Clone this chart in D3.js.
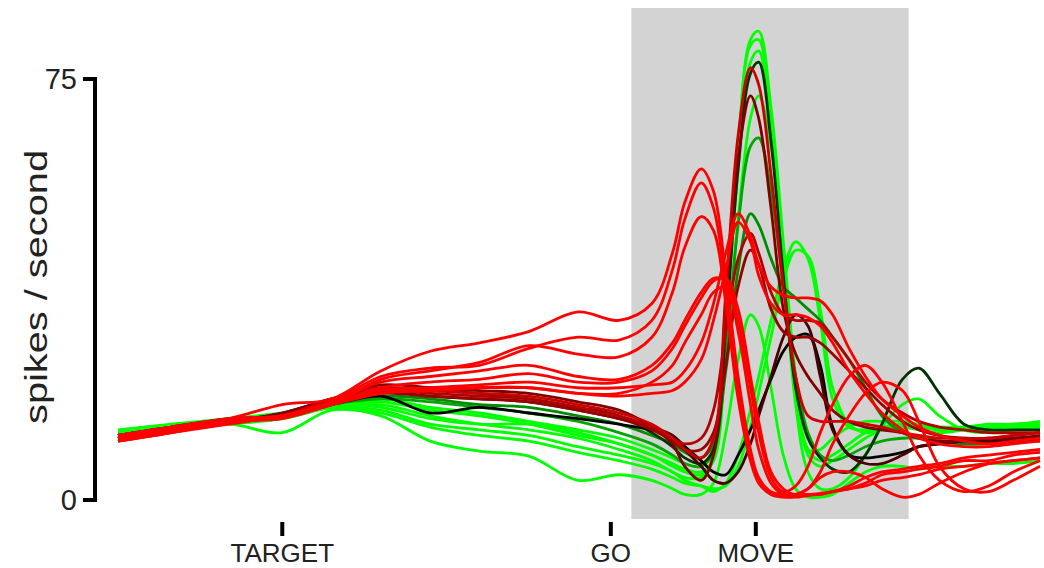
<!DOCTYPE html>
<html>
<head>
<meta charset="utf-8">
<script src="https://cdn.jsdelivr.net/npm/d3@7"></script>
<style>
  html, body { margin: 0; padding: 0; background: #fff; }
  svg { display: block; }
  text { font-family: "Liberation Sans", Arial, Helvetica, sans-serif; fill: #222; }
</style>
</head>
<body>
<svg id="chart" width="1044" height="568"></svg>
<script>
// Time (ms) of every sample, target onset at 0
const times = [-400, -270, -130, 0, 120, 240, 360, 480, 600, 720, 820, 900, 950, 980, 1020, 1050,
  1080, 1110, 1140, 1160, 1190, 1220, 1250, 1280, 1310, 1340, 1380, 1420, 1460, 1510, 1550, 1600,
  1660, 1720, 1780, 1845];

// Task events on the time axis
const eventTimes = [0, 800, 1153];
const eventLabels = ["TARGET", "GO", "MOVE"];

// Movement epoch highlighted in grey
const shadeWindow = [850, 1525];

// Rate axis ticks (spikes / second)
const rateTicks = [0, 75];

// Condition tint: -1 = green, 0 = black, +1 = red
const tints = [-1, -1, -1, -1, -0.65, -1, -1, -1, -0.55, -0.2, 0, 0.3, 0.8, 0.5, 0.7, 0.6,
  1, 1, 1, 1, 1, 1, 1, 1];

// Firing rate of each condition at each sample time
const rates = [
  [12, 13, 14.5, 15, 17, 18, 16.5, 15.5, 14, 12.5, 11, 9, 7.5, 6.5, 6, 9, 36, 63, 82, 83.5, 70, 46, 22, 8, 6, 7, 9, 11, 12.5, 13, 13, 12.5, 12.5, 12.5, 13, 13],
  [11.5, 13, 14, 15, 17, 17.5, 16, 15, 13.5, 11.5, 10, 8, 6, 5, 4.5, 7, 32, 59, 78, 80, 66, 42, 20, 9, 7, 8, 10, 12, 12.5, 13, 12.5, 12, 12.5, 13, 13, 13.5],
  [12, 13, 14, 14.5, 16.5, 17, 15, 13.5, 12.5, 11, 9, 7, 5, 4, 4, 8, 35, 63, 81, 82, 67, 42, 17, 5, 2, 2, 4, 8, 13, 17, 18, 15, 12.5, 12, 12.5, 13],
  [12.5, 13.5, 14.5, 15.5, 17, 16.5, 14.5, 13.5, 13.5, 12, 10, 8, 6.5, 5.5, 5, 7, 26, 50, 68, 72, 63, 42, 20, 9, 9, 11, 13, 14, 14, 14, 13.5, 13, 13, 13, 13.5, 13.5],
  [11.5, 13, 14, 15, 17, 18, 17.5, 16.5, 15.5, 14, 12, 10, 8, 6.5, 6, 8.5, 26, 49, 63, 64.5, 55, 38, 22, 12, 8, 7, 8, 9.5, 10.5, 11, 11, 10.5, 10, 10.5, 11, 11],
  [11, 12.5, 13.5, 14.5, 16.5, 16, 13.5, 12.5, 11.5, 9.5, 8, 6.5, 5, 3.5, 2.5, 1.5, 3, 8, 16, 22, 32, 41, 46, 43, 32, 18, 13, 12.5, 13, 13.5, 13.5, 13, 13, 13.5, 13.5, 14],
  [12, 13, 14, 15, 16.5, 15.5, 13, 11.5, 10.5, 8.5, 7, 5.5, 4, 3, 2.5, 2, 2.5, 6, 13, 19, 29, 39, 44.5, 43.5, 34, 20, 13.5, 12, 12.5, 13, 13, 12.5, 12.5, 13, 13.5, 13.5],
  [11, 12.5, 13.5, 12, 16, 15, 10.5, 8.7, 7.8, 3.5, 4.5, 3.5, 2, 1, 1, 3, 12, 25, 33, 31, 20, 8, 2, 0.5, 0.5, 1, 3, 5, 6, 6, 5.5, 6, 6, 6.5, 6.5, 7],
  [11, 12.5, 14, 15, 17, 18.5, 18, 17, 16.5, 15, 13.5, 11.5, 10, 8.5, 7.5, 10, 23, 41, 51, 49, 43, 38, 36, 34, 32, 29, 25, 20, 15, 12, 11, 10.5, 10, 10, 10.5, 10.5],
  [11.5, 13, 14.5, 15, 17.5, 19.5, 19.5, 19, 18, 16.5, 15, 12, 9.5, 7.5, 6.5, 9, 31, 59, 76, 78, 64, 40, 20, 11, 7.5, 5.5, 5, 8, 13.5, 21.5, 23.5, 19, 13.5, 12.5, 12.5, 12.5],
  [11.5, 12.5, 14, 15, 17, 18.5, 15.5, 16.5, 15.5, 14.5, 13.5, 12.5, 11.5, 9.5, 7, 5, 4.5, 8, 12.5, 16, 21.5, 26.5, 29, 29.5, 24, 13, 8, 7.5, 7.8, 8.5, 9.5, 10, 10.5, 10.5, 10.5, 11],
  [11, 12.5, 14, 15.5, 18, 19.5, 18.5, 18, 17.5, 16, 14.5, 13, 11.5, 9, 6, 3.5, 3, 5, 10, 15, 22, 29, 33, 31, 22, 12.5, 8, 6.5, 6.5, 8, 9.5, 10, 10.5, 10.5, 11, 11],
  [11, 12.5, 14, 15, 18, 20, 19.5, 19, 18.5, 17, 15.5, 13.5, 11, 9, 7.5, 11, 37, 65, 77, 74, 58, 38, 22, 15, 14, 14, 14, 13.5, 13, 12, 11.5, 11, 11, 11, 11.5, 12],
  [11.5, 13, 14, 15.5, 18, 20.5, 20, 19.5, 19, 17.5, 16, 13, 10, 6, 3.5, 8, 35, 61, 72, 68, 52, 34, 26, 22, 19, 16, 14, 13, 12.5, 12, 11, 10.5, 10.5, 11, 11, 11.5],
  [11, 12.5, 14, 15, 17.5, 19.5, 19, 18.5, 18, 16.5, 15, 13, 11, 10, 11, 16, 30, 43, 47.5, 44, 37, 33, 32, 32, 31.5, 29, 25, 21, 18, 15.5, 14, 13, 12.5, 12, 12, 12],
  [11.5, 13, 14, 15, 17.5, 19, 18.5, 18, 17.5, 16, 14.5, 12.5, 10.5, 9, 9, 12, 24, 38, 44.5, 42, 34, 30, 29, 29, 28, 26, 23, 20, 17, 14, 12.5, 11.5, 11, 11, 11.5, 12],
  [11.5, 13, 14.5, 15, 17, 19.5, 20, 20.5, 21, 20, 20, 20.5, 21, 23, 28, 35, 44, 51, 47, 42, 38, 36.5, 36, 36, 35.5, 33, 27, 22, 18, 15, 13, 11.5, 10.5, 10, 10.5, 11],
  [11, 12.5, 14, 15, 17, 19, 19.5, 20, 20, 19, 18.5, 19, 19.5, 21, 25, 32, 41, 49.5, 46, 40, 35, 33, 33, 32.5, 31, 28, 23, 19, 15.5, 12.5, 11, 10, 9.5, 9.5, 10, 10.5],
  [11.5, 13, 14.5, 17, 18, 23, 26.5, 28, 30, 33.5, 32, 35, 44, 53, 59, 55, 40, 22, 9, 4, 1.5, 1, 1, 1, 1.2, 1.5, 2, 3, 4.5, 5, 5.5, 6, 7, 7, 8, 8.5],
  [11, 12.5, 14, 15, 17.5, 22, 23.5, 24, 27, 29, 28.5, 32, 41, 50, 56.5, 52, 38, 20, 8, 3.5, 1.2, 0.8, 0.8, 1, 1, 1.5, 2.5, 4, 5, 5.5, 6, 6.5, 7.5, 8, 8.5, 9],
  [10.5, 12, 14, 15, 17, 21.5, 23, 24.5, 27.5, 26, 25.5, 29, 37, 45, 50.5, 48, 35, 18, 7, 3, 1, 0.5, 0.5, 0.8, 1, 1.5, 2, 2.5, 3.5, 4, 4.5, 5.5, 6, 6.5, 7, 7.5],
  [11, 12.5, 14, 15, 17.5, 21, 22, 23, 24, 22, 21.5, 24, 28, 32, 37, 39.5, 39, 32, 20, 12, 4, 1.5, 2.5, 6, 12, 17, 22, 24, 21, 14, 8, 3.5, 1.5, 2.5, 5, 7],
  [10.5, 12, 14, 14.5, 17, 20, 21, 21.5, 22.5, 21, 21, 23, 27, 31, 36, 39, 39.5, 34, 22, 14, 5, 2, 1, 2, 5, 10, 15, 19, 21, 19.5, 14, 6, 2, 1.5, 3.5, 6],
  [10.5, 12, 13.5, 15, 17, 19, 19.5, 20, 20, 19, 19, 21, 24, 28, 33, 37, 38, 30, 17, 9, 3, 1, 1, 2, 4, 5, 5, 4, 2, 0.5, 1, 3, 5, 6.5, 7, 7.5]
];

const svg = d3.select("#chart");

const x = d3.scaleLinear().domain([times[0], times[times.length - 1]]).range([118, 1040]);
const y = d3.scaleLinear().domain([0, 75]).range([500, 79]);

const tintColor = t => t < 0
  ? d3.rgb(0, Math.round(255 * -t), 0).toString()
  : d3.rgb(Math.round(255 * t), 0, 0).toString();

// grey movement epoch
svg.append("rect")
  .attr("x", x(shadeWindow[0]))
  .attr("y", 8)
  .attr("width", x(shadeWindow[1]) - x(shadeWindow[0]))
  .attr("height", 511)
  .attr("fill", "#d3d3d3");

// condition traces, greens first and reds last
const line = d3.line()
  .x((d, i) => x(times[i]))
  .y(d => y(d))
  .curve(d3.curveCatmullRom.alpha(0.5));

const order = d3.range(rates.length).sort((a, b) => tints[a] - tints[b]);
svg.append("g")
  .selectAll("path")
  .data(order)
  .join("path")
  .attr("d", i => line(rates[i]))
  .attr("fill", "none")
  .attr("stroke", i => tintColor(tints[i]))
  .attr("stroke-width", 2.8)
  .attr("stroke-linejoin", "round");

// rate axis: bracket with end ticks
const yAxis = svg.append("g");
yAxis.append("path")
  .attr("d", `M83,${y(rateTicks[1])}H95V${y(rateTicks[0])}H83`)
  .attr("fill", "none")
  .attr("stroke", "#000")
  .attr("stroke-width", 4);
yAxis.selectAll("text")
  .data(rateTicks)
  .join("text")
  .attr("x", 77)
  .attr("y", d => y(d) + 10)
  .attr("text-anchor", "end")
  .style("font-size", "29px")
  .text(d => d);

svg.append("text")
  .attr("transform", "translate(47,287) rotate(-90)")
  .attr("text-anchor", "middle")
  .attr("textLength", 274)
  .attr("lengthAdjust", "spacingAndGlyphs")
  .style("font-size", "32px")
  .text("spikes / second");

// event markers on the time axis
const xAxis = svg.append("g");
xAxis.selectAll("line")
  .data(eventTimes)
  .join("line")
  .attr("x1", d => x(d)).attr("x2", d => x(d))
  .attr("y1", 522).attr("y2", 536)
  .attr("stroke", "#000")
  .attr("stroke-width", 4);
xAxis.selectAll("text")
  .data(eventLabels)
  .join("text")
  .attr("x", (d, i) => x(eventTimes[i]))
  .attr("y", 562)
  .attr("text-anchor", "middle")
  .style("font-size", "26px")
  .text(d => d);
</script>
</body>
</html>
